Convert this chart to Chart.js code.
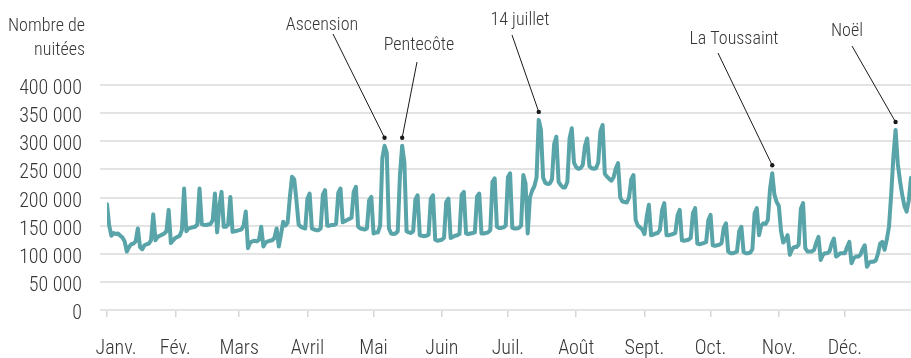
<!DOCTYPE html>
<html lang="fr">
<head>
<meta charset="utf-8">
<title>Nuitées 2016</title>
<script src="https://cdn.jsdelivr.net/npm/chart.js@4/dist/chart.umd.min.js"></script>
<style>
  html, body { margin: 0; padding: 0; background: #ffffff; }
  #cadre { position: relative; width: 911px; height: 358px; }
</style>
</head>
<body>
<div id="cadre"><canvas id="graphique" width="911" height="358"></canvas></div>
<script>
// Nuitées par jour, du 1er janvier au 31 décembre 2016 (366 jours)
const nuitees = [
  188000,150000,132000,137000,135000,136000,132000,
  129000,122000,104000,112000,117000,118000,122000,
  145000,112000,108000,115000,117000,118000,124000,
  170000,124000,130000,132000,134000,136000,140000,
  178000,119000,124000,128000,130000,132000,142000,
  216000,140000,145000,146000,147000,148000,152000,
  216000,153000,151000,151000,152000,153000,160000,
  207000,138000,185000,210000,148000,148000,152000,
  201000,139000,140000,141000,142000,143000,150000,
  175000,110000,120000,122000,123000,122000,125000,
  148000,113000,120000,122000,123000,124000,128000,
  145000,113000,135000,157000,150000,155000,200000,
  237000,232000,195000,152000,148000,146000,145000,
  198000,207000,145000,143000,142000,142000,145000,
  205000,213000,150000,150000,151000,151000,153000,
  208000,216000,156000,158000,160000,162000,164000,
  210000,219000,148000,145000,144000,143000,145000,
  195000,201000,136000,138000,138000,150000,270000,
  292000,280000,145000,136000,135000,136000,140000,
  240000,292000,262000,140000,138000,137000,140000,
  196000,204000,133000,132000,131000,132000,134000,
  198000,204000,125000,123000,124000,125000,128000,
  192000,198000,128000,130000,132000,133000,135000,
  205000,210000,136000,135000,136000,137000,138000,
  202000,207000,136000,136000,137000,138000,142000,
  228000,234000,148000,146000,146000,147000,150000,
  236000,243000,146000,145000,145000,146000,150000,
  240000,225000,136000,200000,212000,220000,235000,
  338000,320000,235000,226000,224000,225000,232000,
  295000,308000,228000,222000,218000,218000,228000,
  305000,323000,262000,254000,251000,252000,258000,
  292000,305000,256000,252000,251000,252000,262000,
  318000,329000,242000,237000,233000,230000,236000,
  252000,261000,200000,193000,192000,191000,200000,
  232000,240000,160000,150000,147000,143000,135000,
  165000,187000,133000,134000,136000,137000,142000,
  178000,190000,133000,133000,134000,135000,137000,
  168000,178000,124000,123000,124000,125000,128000,
  172000,181000,118000,117000,118000,119000,121000,
  160000,169000,115000,114000,115000,116000,119000,
  146000,154000,104000,101000,101000,102000,104000,
  140000,148000,103000,101000,101000,102000,108000,
  172000,181000,133000,150000,154000,153000,160000,
  215000,243000,205000,192000,185000,140000,120000,
  125000,133000,98000,108000,112000,112000,116000,
  180000,190000,110000,104000,104000,104000,107000,
  120000,130000,89000,98000,101000,101000,104000,
  118000,127000,95000,98000,101000,101000,101000,
  112000,121000,83000,92000,95000,95000,98000,
  108000,115000,77000,84000,86000,86000,88000,
  100000,118000,121000,107000,125000,148000,205000,
  272000,320000,260000,230000,205000,185000,175000,
  195000,235000
];

// Premier jour de chaque mois (index dans l'année) et libellés
const moisDebut = [0, 31, 60, 91, 121, 152, 182, 213, 244, 274, 305, 335];
const moisLabels = ['Janv.', 'Fév.', 'Mars', 'Avril', 'Mai', 'Juin', 'Juil.', 'Août', 'Sept.', 'Oct.', 'Nov.', 'Déc.'];

// Graduations de l'axe des nuitées
const yTicks = [0, 50000, 100000, 150000, 200000, 250000, 300000, 350000, 400000];

// Événements signalés et jour du pic correspondant
const evenementNoms = ['Ascension', 'Pentecôte', '14 juillet', 'La Toussaint', 'Noël'];
const evenementJours = [126, 134, 196, 302, 358];

// Placement des étiquettes (centre du texte, ligne de base, départ du trait)
const placementEtiquettes = [
  { tx: 322, ty: 30, lx: 333, ly: 34 },
  { tx: 419, ty: 50, lx: 417, ly: 62 },
  { tx: 520, ty: 25, lx: 512, ly: 35 },
  { tx: 734, ty: 44, lx: 718, ly: 53 },
  { tx: 847, ty: 36, lx: 852, ly: 46 }
];

const POLICE = "'Liberation Sans Narrow', 'Roboto Condensed', 'DejaVu Sans Condensed', Roboto, sans-serif";
const TAILLE_AXES = 20;
const TAILLE_NOTES = 18;
const ENCRE = '#363636';

function formatMilliers(v) {
  return String(v).replace(/\B(?=(\d{3})+(?!\d))/g, ' ');
}

// Décale légèrement le premier libellé de mois vers la droite
const decalageJanvier = {
  id: 'decalageJanvier',
  beforeDraw(chart) {
    const items = chart.scales.x.getLabelItems(chart.chartArea);
    if (items.length) {
      const t = items[0].options.translation;
      items[0].options.translation = [t[0] + 9, t[1]];
    }
  }
};

// Titre de l'axe et annotations des pics
const habillage = {
  id: 'habillage',
  afterDraw(chart) {
    const ctx = chart.ctx;
    const xs = chart.scales.x;
    const ys = chart.scales.y;
    ctx.save();
    ctx.font = `300 ${TAILLE_NOTES}px ${POLICE}`;
    ctx.fillStyle = ENCRE;
    ctx.textAlign = 'right';
    ctx.textBaseline = 'alphabetic';
    ctx.fillText('Nombre de', 85, 31);
    ctx.fillText('nuitées', 85, 55);

    evenementNoms.forEach((nom, i) => {
      const jour = evenementJours[i];
      const p = placementEtiquettes[i];
      const px = xs.getPixelForValue(jour);
      const py = ys.getPixelForValue(nuitees[jour]) - 8;
      ctx.textAlign = 'center';
      ctx.fillStyle = ENCRE;
      ctx.fillText(nom, p.tx, p.ty);
      ctx.strokeStyle = '#1a1a1a';
      ctx.lineWidth = 1;
      ctx.beginPath();
      ctx.moveTo(p.lx, p.ly);
      ctx.lineTo(px, py);
      ctx.stroke();
      ctx.fillStyle = '#1a1a1a';
      ctx.beginPath();
      ctx.arc(px, py, 2.2, 0, Math.PI * 2);
      ctx.fill();
    });
    ctx.restore();
  }
};

new Chart(document.getElementById('graphique'), {
  type: 'line',
  data: {
    datasets: [{
      data: nuitees.map((v, i) => ({ x: i, y: v })),
      borderColor: '#58a4a8',
      borderWidth: 4,
      pointRadius: 0,
      tension: 0,
      borderJoinStyle: 'round',
      borderCapStyle: 'round',
      fill: false
    }]
  },
  options: {
    responsive: false,
    animation: false,
    devicePixelRatio: 1,
    layout: { padding: { top: 85, right: 0, bottom: 0, left: 0 } },
    plugins: { legend: { display: false }, tooltip: { enabled: false } },
    scales: {
      x: {
        type: 'linear',
        min: 0,
        max: 365,
        afterBuildTicks(scale) { scale.ticks = moisDebut.map(v => ({ value: v })); },
        afterFit(scale) { scale.height = 48; },
        border: { display: false },
        grid: { drawOnChartArea: false, drawTicks: true, tickLength: 7, color: '#d6d6d6', lineWidth: 1.5 },
        ticks: {
          autoSkip: false,
          maxRotation: 0,
          padding: 20,
          color: ENCRE,
          font: { family: POLICE, size: TAILLE_AXES, weight: '300' },
          callback(v) { const k = moisDebut.indexOf(v); return k >= 0 ? moisLabels[k] : ''; }
        }
      },
      y: {
        min: 0,
        max: 400000,
        afterBuildTicks(scale) { scale.ticks = yTicks.map(v => ({ value: v })); },
        afterFit(scale) { scale.width = 107; },
        border: { display: false },
        grid: { color: '#e3e3e3', lineWidth: 2, drawTicks: true, tickLength: 7 },
        ticks: {
          padding: 18,
          labelOffset: 4,
          color: ENCRE,
          font: { family: POLICE, size: TAILLE_AXES, weight: '300' },
          callback(v) { return formatMilliers(v); }
        }
      }
    }
  },
  plugins: [decalageJanvier, habillage]
});
</script>
</body>
</html>
